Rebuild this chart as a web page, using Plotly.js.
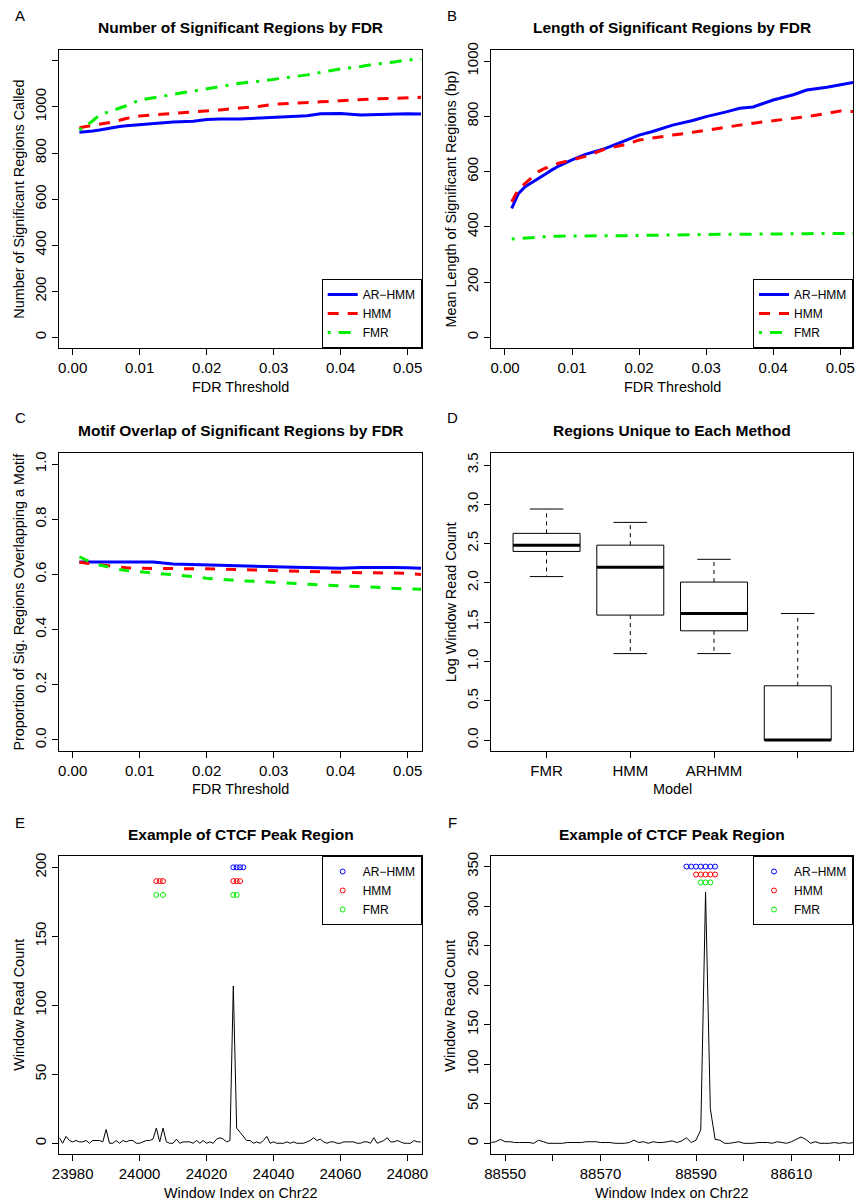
<!DOCTYPE html>
<html>
<head>
<meta charset="utf-8">
<script src="https://cdn.plot.ly/plotly-3.0.1.min.js"></script>
<style>html,body{margin:0;padding:0;background:#fff;}</style>
</head>
<body>
<div id="chart" style="width:857px;height:1203px;"></div>
<script>
// ---------- Panel A/B/C data: FDR threshold grid ----------
const fdr = [0.001,0.002,0.003,0.004,0.005,0.006,0.007,0.008,0.010,0.012,0.015,0.018,0.020,0.022,0.025,0.028,0.030,0.033,0.035,0.037,0.040,0.043,0.045,0.048,0.050,0.052];

// A: Number of significant regions
const numAR  = [890,892,896,900,905,912,915,918,923,925,935,938,945,948,948,952,955,958,962,970,972,965,967,968,970,969];
const numHMM = [910,915,920,925,928,935,942,950,961,965,970,978,983,987,995,1003,1012,1015,1018,1022,1027,1032,1035,1037,1040,1042];
const numFMR = [900,918,940,965,975,985,995,1005,1030,1040,1052,1068,1077,1087,1103,1112,1120,1130,1139,1150,1165,1175,1185,1195,1204,1207];

// B: Mean length of significant regions (bp)
const lenAR  = [467,520,545,560,572,590,606,620,642,662,684,712,732,745,768,785,799,816,829,834,859,878,895,905,913,923];
const lenHMM = [491,535,557,580,600,612,622,630,642,655,682,698,714,722,732,742,750,760,768,775,784,792,799,810,819,817];
const lenFMR = [356,358,360,362,364,365,366,366,367,367,368,368,369,369,370,371,373,373,373,373,373,374,375,376,376,376];

// C: Proportion overlapping a motif
const motAR  = [0.645,0.645,0.644,0.644,0.644,0.645,0.646,0.646,0.646,0.645,0.638,0.636,0.632,0.631,0.630,0.629,0.628,0.626,0.625,0.623,0.622,0.625,0.626,0.625,0.624,0.622];
const motHMM = [0.644,0.641,0.638,0.634,0.631,0.628,0.626,0.624,0.622,0.622,0.622,0.621,0.620,0.619,0.617,0.614,0.612,0.611,0.610,0.609,0.607,0.606,0.606,0.605,0.604,0.600];
const motFMR = [0.664,0.652,0.640,0.634,0.628,0.622,0.618,0.614,0.610,0.606,0.600,0.592,0.586,0.582,0.577,0.574,0.571,0.568,0.565,0.562,0.558,0.556,0.553,0.550,0.547,0.546];

const seriesNames = ["AR\u2212HMM","HMM","FMR"];

// ---------- Panel D data: boxplot summaries ----------
const boxCats = ["FMR","HMM","ARHMM",""];
const boxLow  = [2.08,1.10,1.10,0.00];
const boxQ1   = [2.40,1.59,1.39,0.00];
const boxMed  = [2.48,2.20,1.61,0.00];
const boxQ3   = [2.63,2.48,2.01,0.69];
const boxHigh = [2.94,2.77,2.30,1.61];

// ---------- Panel E data ----------
const eX = [];
for (let v = 23976; v <= 24084; v++) eX.push(v);
const eY = [4,0,5,2,1,2,1,1,2,0,2,2,2,1,10,0,0,2,0,2,1,2,2,0,0,1,2,2,3,11,1,11,1,0,0,3,0,1,1,1,0,2,0,2,0,1,0,3,4,3,1,2,114,11,8,5,2,2,0,1,0,2,5,0,1,0,0,0,1,0,1,0,0,0,1,2,4,2,3,1,0,1,1,0,0,1,1,1,1,0,0,1,1,0,4,0,1,2,4,1,1,2,1,0,0,0,2,1,1];
const eCallAR  = [24028,24029,24030,24031];
const eCallHMM = [24005,24006,24007,24028,24029,24030];
const eCallFMR = [24005,24007,24028,24029];
const eLevel = [200,190,180];

// ---------- Panel F data ----------
const fX = [];
for (let v = 88547; v <= 88623; v++) fX.push(v);
const fY = [1,2,5,2,2,1,1,1,1,0,4,2,0,0,0,0,1,1,1,1,2,2,2,1,1,1,0,0,0,1,4,1,2,0,2,1,1,2,3,1,3,7,1,4,17,318,44,5,4,0,0,1,2,0,0,0,1,1,1,0,2,1,0,2,5,8,5,0,2,0,0,0,1,0,1,0,1];
const fCallAR  = [88588,88589,88590,88591,88592,88593,88594];
const fCallHMM = [88590,88591,88592,88593,88594];
const fCallFMR = [88591,88592,88593];
const fLevel = [350,340,330];

// ---------- helpers ----------
const W = 857, H = 1203;
const px = v => v / W;
const py = v => 1 - v / H;
const FONT = "Liberation Sans, Arial, Helvetica, sans-serif";
const colors = ["#0000ff","#ff0000","#00ee00"];
const dashes = ["solid","11px,9px","3px,8px,12px,8px"];

const traces = [];
function lineSet(xa, ya, ys, legendId, dashList) {
  ys.forEach((y, k) => {
    traces.push({
      type: "scatter", mode: "lines", x: fdr, y: y, xaxis: xa, yaxis: ya,
      name: seriesNames[k],
      line: {color: colors[k], width: 3, dash: dashList[k]},
      showlegend: !!legendId, legend: legendId || "legend"
    });
  });
}
lineSet("x", "y", [numAR, numHMM, numFMR], "legend", dashes);
lineSet("x2", "y2", [lenAR, lenHMM, lenFMR], "legend2", dashes);
lineSet("x3", "y3", [motAR, motHMM, motFMR], null, ["solid","10px,11px","10px,11px"]);

// Panel D boxes built from summary arrays
const halfBox = 0.4, halfCap = 0.2;
boxCats.forEach((c, i) => {
  traces.push({type:"scatter", mode:"lines", xaxis:"x4", yaxis:"y4", showlegend:false,
    x:[i, i, null, i, i], y:[boxQ3[i], boxHigh[i], null, boxQ1[i], boxLow[i]],
    line:{color:"#000", width:1, dash:"4px,4px"}});
  traces.push({type:"scatter", mode:"lines", xaxis:"x4", yaxis:"y4", showlegend:false,
    x:[i-halfCap, i+halfCap, null, i-halfCap, i+halfCap], y:[boxHigh[i], boxHigh[i], null, boxLow[i], boxLow[i]],
    line:{color:"#000", width:1}});
  traces.push({type:"scatter", mode:"lines", xaxis:"x4", yaxis:"y4", showlegend:false,
    x:[i-halfBox, i+halfBox, i+halfBox, i-halfBox, i-halfBox], y:[boxQ1[i], boxQ1[i], boxQ3[i], boxQ3[i], boxQ1[i]],
    fill:"toself", fillcolor:"#fff", line:{color:"#000", width:1}});
  traces.push({type:"scatter", mode:"lines", xaxis:"x4", yaxis:"y4", showlegend:false,
    x:[i-halfBox, i+halfBox], y:[boxMed[i], boxMed[i]],
    line:{color:"#000", width:3}});
});

// Panel E
traces.push({type:"scatter", mode:"lines", x:eX, y:eY, xaxis:"x5", yaxis:"y5", showlegend:false, line:{color:"#000", width:1}});
[eCallAR, eCallHMM, eCallFMR].forEach((xs, k) => {
  traces.push({type:"scatter", mode:"markers", x:xs, y:xs.map(() => eLevel[k]), xaxis:"x5", yaxis:"y5",
    name: seriesNames[k], legend:"legend3",
    marker:{symbol:"circle-open", size:5, color:colors[k], line:{width:1, color:colors[k]}}});
});
// Panel F
traces.push({type:"scatter", mode:"lines", x:fX, y:fY, xaxis:"x6", yaxis:"y6", showlegend:false, line:{color:"#000", width:1}});
[fCallAR, fCallHMM, fCallFMR].forEach((xs, k) => {
  traces.push({type:"scatter", mode:"markers", x:xs, y:xs.map(() => fLevel[k]), xaxis:"x6", yaxis:"y6",
    name: seriesNames[k], legend:"legend4",
    marker:{symbol:"circle-open", size:5, color:colors[k], line:{width:1, color:colors[k]}}});
});

// ---------- layout ----------
const colL = [59.3, 421.7], colR = [491.3, 853];
const row1 = [50, 348], row2 = [452.7, 751], row3 = [856, 1154.3];
function axis(dom, range, tickvals, ticktext, anchor, isY) {
  return {
    domain: isY ? [py(dom[1]), py(dom[0])] : [px(dom[0]), px(dom[1])],
    range: range, anchor: anchor, tickmode: "array", tickvals: tickvals, ticktext: ticktext,
    showline: true, mirror: true, linecolor: "#000", linewidth: 1,
    ticks: "outside", ticklen: 6, tickcolor: "#000", tickwidth: 1,
    showgrid: false, zeroline: false, tickangle: isY ? -90 : 0,
    tickfont: {size: 15, color: "#000", family: FONT}, fixedrange: true
  };
}
const fdrTicks = [0,0.01,0.02,0.03,0.04,0.05];
const fdrText = ["0.00","0.01","0.02","0.03","0.04","0.05"];

const layout = {
  width: W, height: H, margin: {l:0, r:0, t:0, b:0},
  paper_bgcolor: "#fff", plot_bgcolor: "#fff",
  font: {family: FONT, color: "#000"},
  xaxis:  axis(colL, [-0.002, 0.0521], fdrTicks, fdrText, "y", false),
  yaxis:  axis(row1, [-46, 1247], [0,200,400,600,800,1000,1200], ["0","200","400","600","800","1000",""], "x", true),
  xaxis2: axis(colR, [-0.00204, 0.0519], fdrTicks, fdrText, "y2", false),
  yaxis2: axis(row1, [-38.7, 1040], [0,200,400,600,800,1000], ["0","200","400","600","800","1000"], "x2", true),
  xaxis3: axis(colL, [-0.002, 0.0521], fdrTicks, fdrText, "y3", false),
  yaxis3: axis(row2, [-0.04, 1.041], [0,0.2,0.4,0.6,0.8,1.0], ["0.0","0.2","0.4","0.6","0.8","1.0"], "x3", true),
  xaxis4: axis(colR, [-0.66, 3.66], [0,1,2,3], boxCats, "y4", false),
  yaxis4: axis(row2, [-0.14, 3.657], [0,0.5,1,1.5,2,2.5,3,3.5], ["0.0","0.5","1.0","1.5","2.0","2.5","3.0","3.5"], "x4", true),
  xaxis5: axis(colL, [23976, 24084.3], [23980,24000,24020,24040,24060,24080], ["23980","24000","24020","24040","24060","24080"], "y5", false),
  yaxis5: axis(row3, [-8, 208.2], [0,50,100,150,200], ["0","50","100","150","200"], "x5", true),
  xaxis6: axis(colR, [88547.1, 88622.9], [88550,88560,88570,88580,88590,88600,88610,88620], ["88550","","88570","","88590","","88610",""], "y6", false),
  yaxis6: axis(row3, [-13.9, 363.4], [0,50,100,150,200,250,300,350], ["0","50","100","150","200","250","300","350"], "x6", true),
  legend:  {x: px(colL[1]), y: py(row1[1]), xanchor:"right", yanchor:"bottom", bgcolor:"#fff", bordercolor:"#000", borderwidth:1, font:{size:12, family:FONT}, tracegroupgap:0},
  legend2: {x: px(colR[1]), y: py(row1[1]), xanchor:"right", yanchor:"bottom", bgcolor:"#fff", bordercolor:"#000", borderwidth:1, font:{size:12, family:FONT}, tracegroupgap:0},
  legend3: {x: px(colL[1]), y: py(row3[0]), xanchor:"right", yanchor:"top", bgcolor:"#fff", bordercolor:"#000", borderwidth:1, font:{size:12, family:FONT}, tracegroupgap:0},
  legend4: {x: px(colR[1]), y: py(row3[0]), xanchor:"right", yanchor:"top", bgcolor:"#fff", bordercolor:"#000", borderwidth:1, font:{size:12, family:FONT}, tracegroupgap:0},
  annotations: []
};

function ann(text, x, y, size, opts) {
  layout.annotations.push(Object.assign({
    text: text, x: px(x), y: py(y), xref: "paper", yref: "paper",
    xanchor: "center", yanchor: "middle", showarrow: false,
    font: {size: size, color: "#000", family: FONT}
  }, opts || {}));
}
// panel letters
ann("A", 20, 15, 15); ann("B", 452, 15, 15);
ann("C", 20, 418, 15); ann("D", 452, 418, 15);
ann("E", 20, 822, 15); ann("F", 452, 822, 15);
// titles
const midL = (colL[0]+colL[1])/2, midR = (colR[0]+colR[1])/2;
ann("<b>Number of Significant Regions by FDR</b>", midL, 28, 15.5);
ann("<b>Length of Significant Regions by FDR</b>", midR, 28, 15.5);
ann("<b>Motif Overlap of Significant Regions by FDR</b>", midL, 431, 15.5);
ann("<b>Regions Unique to Each Method</b>", midR, 431, 15.5);
ann("<b>Example of CTCF Peak Region</b>", midL, 834, 15.5);
ann("<b>Example of CTCF Peak Region</b>", midR, 834, 15.5);
// x-axis titles
ann("FDR Threshold", midL, 387, 14.4);
ann("FDR Threshold", midR, 387, 14.4);
ann("FDR Threshold", midL, 789, 14.4);
ann("Model", midR, 789, 14.4);
ann("Window Index on Chr22", midL, 1193, 14.4);
ann("Window Index on Chr22", midR, 1193, 14.4);
// y-axis titles
const r1m = (row1[0]+row1[1])/2, r2m = (row2[0]+row2[1])/2, r3m = (row3[0]+row3[1])/2;
ann("Number of Significant Regions Called", 18.7, r1m, 14.4, {textangle:-90});
ann("Mean Length of Significant Regions (bp)", 450.5, r1m, 14.4, {textangle:-90});
ann("Proportion of Sig. Regions Overlapping a Motif", 18.7, r2m, 14.4, {textangle:-90});
ann("Log Window Read Count", 450.5, r2m, 14.4, {textangle:-90});
ann("Window Read Count", 18.7, r3m, 14.4, {textangle:-90});
ann("Window Read Count", 450.5, r3m, 14.4, {textangle:-90});

Plotly.newPlot("chart", traces, layout, {displayModeBar: false, staticPlot: true});
</script>
</body>
</html>
